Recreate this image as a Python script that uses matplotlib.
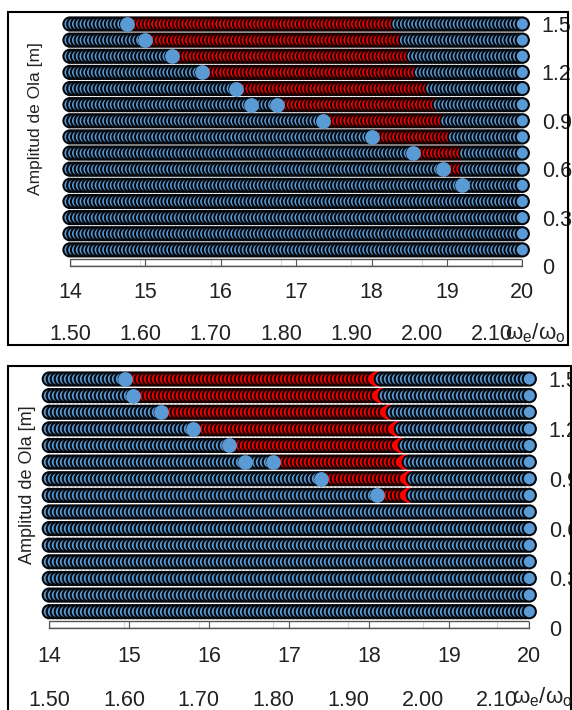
import numpy as np
import matplotlib
matplotlib.use("Agg")
import matplotlib.pyplot as plt
from matplotlib import font_manager
from matplotlib.patches import Rectangle

# fuente estrecha si existe
names = set(f.name for f in font_manager.fontManager.ttflist)
narrow = 'Liberation Sans Narrow' if 'Liberation Sans Narrow' in names else 'Liberation Sans'
plt.rcParams['font.family'] = [narrow, 'DejaVu Sans']
plt.rcParams['mathtext.fontset'] = 'custom'
plt.rcParams['mathtext.rm'] = narrow
plt.rcParams['mathtext.it'] = narrow

# datos
amplitudes = [1.5, 1.4, 1.3, 1.2, 1.1, 1.0, 0.9, 0.8, 0.7, 0.6, 0.5, 0.4, 0.3, 0.2, 0.1]
freq_grid = np.round(np.arange(14.0, 20.0001, 0.05), 2)
x_ticks = [14, 15, 16, 17, 18, 19, 20]
ratio_ticks = [1.50, 1.60, 1.70, 1.80, 1.90, 2.00, 2.10]
ratio_labels = ['1.50', '1.60', '1.70', '1.80', '1.90', '2.00', '2.10']
y_ticks = [0, 0.3, 0.6, 0.9, 1.2, 1.5]
y_labels = ['0', '0.3', '0.6', '0.9', '1.2', '1.5']

# panel superior: zona inestable (rojo) por fila
top_red_amp = [1.5, 1.4, 1.3, 1.2, 1.1, 1.0, 0.9, 0.8, 0.7, 0.6]
top_red_from = [14.80, 15.05, 15.40, 15.80, 16.25, 16.80, 17.40, 18.05, 18.60, 19.00]
top_red_to = [18.30, 18.40, 18.50, 18.60, 18.75, 18.85, 18.95, 19.05, 19.20, 19.20]
top_mark_x = [14.75, 15.00, 15.35, 15.75, 16.20, 16.40, 16.75, 17.35, 18.00, 18.55, 18.95, 19.20]
top_mark_y = [1.5, 1.4, 1.3, 1.2, 1.1, 1.0, 1.0, 0.9, 0.8, 0.7, 0.6, 0.5]

# panel inferior
bot_red_amp = [1.5, 1.4, 1.3, 1.2, 1.1, 1.0, 0.9, 0.8]
bot_red_from = [15.00, 15.10, 15.45, 15.85, 16.30, 16.85, 17.45, 18.15]
bot_red_to = [18.10, 18.15, 18.25, 18.35, 18.40, 18.45, 18.50, 18.50]
bot_mark_x = [14.95, 15.05, 15.40, 15.80, 16.25, 16.45, 16.80, 17.40, 18.10]
bot_mark_y = [1.5, 1.4, 1.3, 1.2, 1.1, 1.0, 1.0, 0.9, 0.8]

blue = '#5b9bd5'
red = '#ff0000'
blue_edge = '#04080d'
red_edge = '#180000'


def draw_panel(ax, red_amp, red_from, red_to, mark_x, mark_y, bright_end,
               lab_pad, sec_pad):
    xs, ys, fc, ec = [], [], [], []
    for a in amplitudes:
        lo, hi = None, None
        if a in red_amp:
            i = red_amp.index(a)
            lo, hi = red_from[i], red_to[i]
        for x in freq_grid:
            xs.append(x)
            ys.append(a)
            if lo is not None and lo - 1e-6 <= x <= hi + 1e-6:
                fc.append(red)
                # ultimo punto rojo con borde rojo (panel inferior)
                if bright_end and abs(x - hi) < 1e-6:
                    ec.append(red)
                else:
                    ec.append(red_edge)
            else:
                fc.append(blue)
                ec.append(blue_edge)
    ax.scatter(xs, ys, s=90, c=fc, edgecolors=ec, linewidths=1.5,
               clip_on=False, zorder=3)
    ax.scatter(mark_x, mark_y, s=92, c=blue, edgecolors=blue,
               linewidths=1.0, clip_on=False, zorder=4)

    ax.set_xlim(14, 20)
    ax.set_ylim(0, 1.5)
    for s in ['left', 'top', 'right']:
        ax.spines[s].set_visible(False)
    ax.spines['bottom'].set_color('#555555')
    ax.spines['bottom'].set_linewidth(1.0)
    ax.add_patch(Rectangle((0, 0), 1, 0.028, transform=ax.transAxes,
                           fill=False, ec='#555555', lw=1.0, zorder=1))
    ax.set_xticks(x_ticks)
    ax.tick_params(axis='x', direction='in', length=5, color='#555555',
                   labelsize=15.5, pad=lab_pad, labelcolor='#222222')
    ax.yaxis.tick_right()
    ax.set_yticks(y_ticks)
    ax.set_yticklabels(y_labels)
    ax.tick_params(axis='y', length=0, labelsize=15.5, pad=14, labelcolor='#222222')
    for t in ax.get_yticklabels():
        t.set_horizontalalignment('left')

    sec = ax.secondary_xaxis('bottom', functions=(lambda x: x * 1.5 / 14,
                                                  lambda w: w * 14 / 1.5))
    sec.set_xticks(ratio_ticks)
    sec.set_xticklabels(ratio_labels)
    sec.spines['bottom'].set_visible(False)
    sec.tick_params(axis='x', direction='in', length=5, color='#d8d8d8',
                    labelsize=15.5, pad=sec_pad, labelcolor='#222222')


fig = plt.figure(figsize=(5.72, 7.10), dpi=100)
W, H = 572.0, 710.0

ax1 = fig.add_axes([70 / W, 1 - 266 / H, 452.3 / W, 242 / H])
draw_panel(ax1, top_red_amp, top_red_from, top_red_to, top_mark_x, top_mark_y,
           False, 11.5, 42)
ax2 = fig.add_axes([49.3 / W, 1 - 628.3 / H, 480 / W, 249.3 / H])
draw_panel(ax2, bot_red_amp, bot_red_from, bot_red_to, bot_mark_x, bot_mark_y,
           True, 13, 44.5)

# marcos de cada grafico
fig.patches.append(Rectangle((8 / W, 1 - 345 / H), 560 / W, 333 / H,
                             transform=fig.transFigure, fill=False,
                             ec='black', lw=1.5))
fig.patches.append(Rectangle((8 / W, -0.01), 563 / W, 1 - 366 / H + 0.01,
                             transform=fig.transFigure, fill=False,
                             ec='black', lw=1.5))

fig.text(36 / W, 1 - 119 / H, 'Amplitud de Ola [m]', rotation=90,
         ha='center', va='center', fontsize=12.5, color='#222222')
fig.text(28 / W, 1 - 485 / H, 'Amplitud de Ola [m]', rotation=90,
         ha='center', va='center', fontsize=13, color='#222222')
fig.text(535 / W, 1 - 333 / H, r'$\mathregular{\omega_e/\omega_o}$',
         ha='center', va='center', fontsize=16, color='#222222')
fig.text(542 / W, 1 - 697 / H, r'$\mathregular{\omega_e/\omega_o}$',
         ha='center', va='center', fontsize=16, color='#222222')

fig.savefig('out.png', dpi=100)
